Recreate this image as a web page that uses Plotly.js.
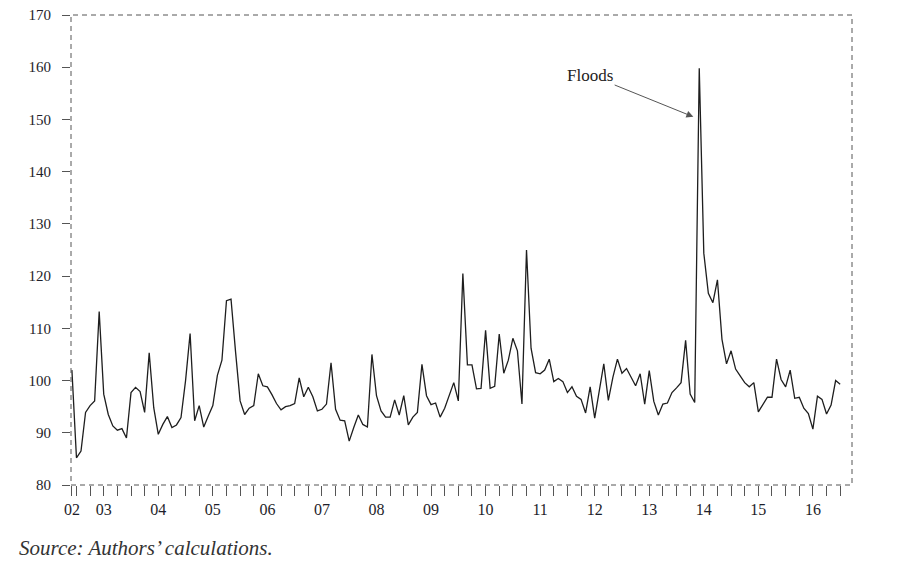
<!DOCTYPE html>
<html>
<head>
<meta charset="utf-8">
<script src="https://cdn.plot.ly/plotly-3.0.1.min.js"></script>
<style>
  body { margin: 0; background: #fff; }
  #chart { width: 900px; height: 571px; }
</style>
</head>
<body>
<div id="chart"></div>
<script>
// months counted from Jan 2002 (= 0); series runs Jun 2002 .. Jul 2016
const firstMonth = 5;
const values = [
  102.0, 85.2, 86.5, 93.9, 95.2, 96.1, 113.2, 97.4, 93.5, 91.3, 90.5, 90.8, 89.0,
  97.7, 98.7, 97.9, 93.9, 105.3, 94.8, 89.7, 91.6, 93.1, 91.0, 91.5, 92.9,
  100.0, 109.0, 92.3, 95.2, 91.1, 93.2, 95.2, 101.0, 103.9, 115.3, 115.6, 105.5,
  96.1, 93.5, 94.7, 95.2, 101.3, 99.0, 98.8, 97.3, 95.6, 94.4, 95.0, 95.2,
  95.6, 100.5, 96.9, 98.7, 96.9, 94.2, 94.5, 95.5, 103.4, 94.5, 92.4, 92.3,
  88.4, 91.0, 93.4, 91.6, 91.1, 105.0, 97.1, 94.2, 93.0, 93.0, 96.3, 93.4,
  97.1, 91.5, 93.0, 93.9, 103.1, 97.1, 95.4, 95.7, 93.0, 94.7, 97.2, 99.6,
  96.1, 120.5, 103.0, 103.0, 98.4, 98.5, 109.6, 98.5, 98.9, 108.9, 101.4, 103.9,
  108.1, 105.7, 95.5, 125.0, 106.2, 101.5, 101.3, 102.0, 104.1, 99.8, 100.4, 99.8,
  97.7, 98.8, 97.0, 96.4, 93.8, 98.8, 92.8, 98.2, 103.2, 96.2, 100.6, 104.1,
  101.4, 102.3, 100.6, 99.0, 101.3, 95.5, 101.9, 96.0, 93.4, 95.5, 95.7, 97.7,
  98.6, 99.6, 107.7, 97.4, 95.8, 159.8, 124.4, 116.7, 114.9, 119.3, 107.9, 103.2,
  105.7, 102.2, 100.9, 99.6, 98.8, 99.6, 94.0, 95.5, 96.8, 96.8, 104.1, 100.2,
  98.8, 102.0, 96.6, 96.8, 94.7, 93.7, 90.7, 97.0, 96.4, 93.6, 95.3, 100.0, 99.3
];
const yearLabels = ["02","03","04","05","06","07","08","09","10","11","12","13","14","15","16"];
const yTicks = [80, 90, 100, 110, 120, 130, 140, 150, 160, 170];

const months = values.map((v, i) => firstMonth + i);

// tick marks every quarter, year label on January ("02" sits at the start)
const tickvals = [firstMonth];
const ticktext = [yearLabels[0]];
for (let m = 6; m <= 174; m += 3) {
  tickvals.push(m);
  ticktext.push(m % 12 === 0 ? yearLabels[m / 12] : "");
}

const serif = "Liberation Serif, Times New Roman, serif";

const trace = {
  x: months,
  y: values,
  type: "scatter",
  mode: "lines",
  line: { color: "#1e1e1e", width: 1.3 },
  hoverinfo: "skip"
};

const layout = {
  width: 900,
  height: 571,
  margin: { l: 71, r: 48, t: 15, b: 86 },
  paper_bgcolor: "#fff",
  plot_bgcolor: "#fff",
  showlegend: false,
  font: { family: serif, size: 15, color: "#1e1e2a" },
  xaxis: {
    range: [4.8, 176.6],
    tickmode: "array",
    tickvals: tickvals,
    ticktext: ticktext,
    ticks: "outside",
    ticklen: 10,
    tickcolor: "#555",
    tickwidth: 1,
    showgrid: false,
    zeroline: false,
    showline: false,
    tickfont: { family: serif, size: 16 }
  },
  yaxis: {
    range: [80, 170],
    tickvals: yTicks,
    ticks: "outside",
    ticklen: 8,
    tickcolor: "#555",
    ticklabelstandoff: 8,
    showgrid: false,
    zeroline: false,
    showline: false,
    tickfont: { family: serif, size: 15 }
  },
  shapes: [{
    type: "rect",
    xref: "paper", yref: "paper",
    x0: 0, x1: 1, y0: 0, y1: 1,
    line: { color: "#555", width: 1, dash: "5px,4px" }
  }],
  annotations: [
    {
      x: 141.7, y: 150.5, xref: "x", yref: "y",
      ax: 119, ay: 158.5, axref: "x", ayref: "y",
      text: "Floods",
      showarrow: true,
      arrowhead: 2,
      arrowsize: 1.4,
      arrowwidth: 1,
      arrowcolor: "#555",
      font: { family: serif, size: 17, color: "#222" }
    },
    {
      x: -0.069, y: -0.134, xref: "paper", yref: "paper",
      xanchor: "left", yanchor: "middle",
      text: "Source: Authors’ calculations.",
      showarrow: false,
      font: { family: serif, size: 21, color: "#333", style: "italic" }
    }
  ]
};

Plotly.newPlot("chart", [trace], layout, { displayModeBar: false, staticPlot: true });
</script>
</body>
</html>
